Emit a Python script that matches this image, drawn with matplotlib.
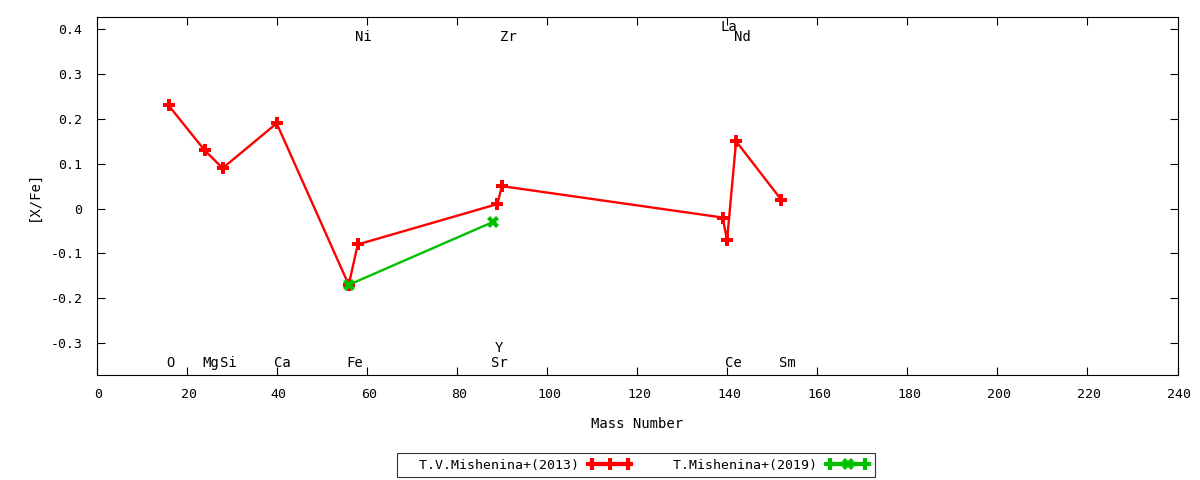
import matplotlib
matplotlib.use('Agg')
import matplotlib.pyplot as plt
import matplotlib.transforms as mtrans
from matplotlib.lines import Line2D
from matplotlib.legend_handler import HandlerLine2D, HandlerTuple

plt.rcParams['font.family'] = 'DejaVu Sans Mono'
plt.rcParams['font.size'] = 9.5

# T.V.Mishenina+(2013)
mass_2013 = [16, 24, 28, 40, 56, 58, 89, 90, 139, 140, 142, 152]
xfe_2013 = [0.23, 0.13, 0.09, 0.19, -0.17, -0.08, 0.01, 0.05, -0.02, -0.07, 0.15, 0.02]

# T.Mishenina+(2019)
mass_2019 = [56, 88]
xfe_2019 = [-0.17, -0.03]

# element labels
elem_names = ['O', 'Mg', 'Si', 'Ca', 'Fe', 'Ni', 'Sr', 'Y', 'Zr', 'La', 'Ce', 'Nd', 'Sm']
elem_mass = [16, 24, 28, 40, 56, 58, 88, 89, 90, 139, 140, 142, 152]
elem_ypos = [-0.345, -0.345, -0.345, -0.345, -0.345, 0.382, -0.345, -0.310, 0.382,
             0.404, -0.345, 0.382, -0.345]

red = '#ff0000'
green = '#00c000'

fig = plt.figure(figsize=(12, 4.8), dpi=100)
ax = fig.add_axes([96.5 / 1200, 1 - 375 / 480, 1081 / 1200, 358 / 480])

ax.plot(mass_2013, xfe_2013, color=red, lw=1.7, marker='P', ms=8, mew=0)
ax.plot(mass_2019, xfe_2019, color=green, lw=1.7, marker='X', ms=8, mew=0)

for name, m, yp in zip(elem_names, elem_mass, elem_ypos):
    ax.text(m - 0.5, yp, name, ha='left', va='center', fontsize=10)

ax.set_xlim(0, 240)
ax.set_ylim(-0.371, 0.427)
ax.set_xticks(range(0, 241, 20))
ax.set_yticks([-0.3, -0.2, -0.1, 0, 0.1, 0.2, 0.3, 0.4])
ax.set_yticklabels(['-0.3', '-0.2', '-0.1', '0', '0.1', '0.2', '0.3', '0.4'])
ax.tick_params(direction='in', top=True, right=True, length=6, width=0.8)
ax.tick_params(axis='x', pad=9)
ax.tick_params(axis='y', pad=10)
for lab in ax.get_xticklabels():
    lab.set_transform(lab.get_transform() +
                      mtrans.ScaledTranslation(2 / 100, 0, fig.dpi_scale_trans))
ax.set_xlabel('Mass Number', labelpad=12, fontsize=10)
ax.set_ylabel('[X/Fe]', labelpad=7, fontsize=10)

# gnuplot style legend samples: capped line with marker
def sample(color, marker):
    body = Line2D([], [], color=color, lw=3, marker=marker, ms=8, mew=0)
    caps = Line2D([], [], color=color, lw=3, marker='|', ms=9, mew=3)
    return body, caps

r_body, r_caps = sample(red, 'P')
g_body, g_caps = sample(green, 'X')
hmap = {tuple: HandlerTuple(ndivide=1, pad=0),
        r_caps: HandlerLine2D(numpoints=2),
        g_caps: HandlerLine2D(numpoints=2)}
leg = fig.legend([(r_body, r_caps), (g_body, g_caps)],
                 ['  T.V.Mishenina+(2013)', '  T.Mishenina+(2019)'],
                 loc='center', bbox_to_anchor=(636 / 1200, 1 - 465 / 480),
                 ncol=2, markerfirst=False, numpoints=1, handlelength=3.3,
                 columnspacing=1.9, handletextpad=0.7, borderpad=0.4,
                 frameon=True, fancybox=False, edgecolor='black',
                 handler_map=hmap, fontsize=9.5)
leg.get_frame().set_linewidth(0.8)

plt.savefig('out.png', dpi=100)
